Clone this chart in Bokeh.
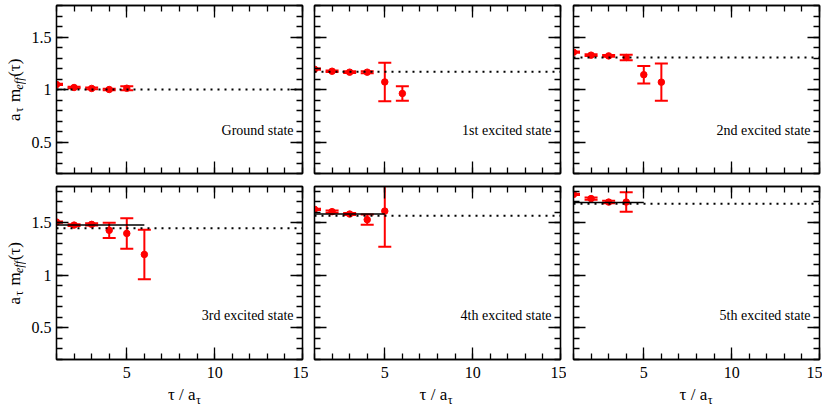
import numpy as np
from bokeh.plotting import figure
from bokeh.models import (LinearAxis, FixedTicker, Range1d, Label,
                          ColumnDataSource, GridPlot)
from bokeh.embed import file_html
from bokeh.resources import INLINE
from bokeh.core.properties import value

# ---------------- data ----------------
tau = [1, 2, 3, 4, 5, 6]
state_names = ["Ground state", "1st excited state", "2nd excited state",
               "3rd excited state", "4th excited state", "5th excited state"]

meff_0 = [1.048, 1.019, 1.010, 1.000, 1.012]
err_0 = [0.006, 0.008, 0.008, 0.008, 0.018]
meff_1 = [1.193, 1.174, 1.165, 1.165, 1.072, 0.962]
err_1 = [0.006, 0.008, 0.008, 0.010, 0.183, 0.069]
meff_2 = [1.355, 1.327, 1.320, 1.305, 1.141, 1.070]
err_2 = [0.006, 0.008, 0.008, 0.027, 0.084, 0.178]
meff_3 = [1.507, 1.478, 1.485, 1.428, 1.399, 1.199]
err_3 = [0.006, 0.008, 0.010, 0.072, 0.145, 0.235]
meff_4 = [1.628, 1.606, 1.583, 1.530, 1.611]
err_4 = [0.006, 0.010, 0.010, 0.048, 0.340]
meff_5 = [1.770, 1.730, 1.697, 1.697]
err_5 = [0.006, 0.010, 0.012, 0.093]

fit_dotted = [1.000, 1.168, 1.305, 1.447, 1.568, 1.682]
fit_solid = [None, None, None, 1.478, 1.583, 1.694]
fit_solid_end = [None, None, None, 6, 5, 5]

x_major = [5, 10, 15]
y_major = [0.5, 1, 1.5]
y_major_labels = ["0.5", "1", "1.5"]

all_meff = [meff_0, meff_1, meff_2, meff_3, meff_4, meff_5]
all_err = [err_0, err_1, err_2, err_3, err_4, err_5]

# ---------------- style / layout ----------------
FONT = "Liberation Serif"
XR = (1, 15)
YR = [(0.2, 1.8), (0.2, 1.845)]
FW = 246
FH = [168, 173]
W0 = 26                       # width of y-title strip
BL = [30, 6, 7]
BR = [6, 6, 3]
BT = [5, 7]
BB = [6, 22]
XT_H = 24                     # height of x-title strip
x_minor = list(range(1, 16))
y_minor = [round(v, 1) for v in np.arange(0.2, 1.86, 0.1)]

ROW_H = [BT[r] + FH[r] + BB[r] for r in range(2)]
COL_W = [BL[c] + FW + BR[c] for c in range(3)]
TOTAL_W = W0 + sum(COL_W)
YT_H = sum(ROW_H)


def style_axis(ax, show_labels):
    ax.axis_line_color = "black"
    ax.axis_line_width = 1.3
    ax.major_tick_in = 12
    ax.major_tick_out = 0
    ax.minor_tick_in = 6
    ax.minor_tick_out = 0
    ax.major_tick_line_color = "black"
    ax.major_tick_line_width = 1.3
    ax.minor_tick_line_color = "black"
    ax.minor_tick_line_width = 1.3
    ax.major_label_text_font = FONT
    ax.major_label_text_color = "black"
    if show_labels:
        ax.major_label_text_font_size = "16px"
    else:
        ax.major_label_text_font_size = "0px"
        ax.major_label_standoff = 0


def blank_fig(w, h):
    f = figure(frame_width=w, frame_height=h, x_range=Range1d(0, w),
               y_range=Range1d(0, h), output_backend="svg",
               toolbar_location=None, title_location=None,
               x_axis_location=None, y_axis_location=None)
    f.min_border = 0
    f.xgrid.visible = False
    f.ygrid.visible = False
    f.outline_line_color = None
    return f


def make_panel(idx):
    row, col = divmod(idx, 3)
    y0, y1 = YR[row]
    fh = FH[row]
    p = figure(frame_width=FW, frame_height=fh,
               x_range=Range1d(*XR), y_range=Range1d(y0, y1),
               output_backend="svg", toolbar_location=None, title_location=None,
               x_axis_location=None, y_axis_location=None)
    p.min_border = 0
    p.min_border_left = BL[col]
    p.min_border_right = BR[col]
    p.min_border_top = BT[row]
    p.min_border_bottom = BB[row]
    p.xgrid.visible = False
    p.ygrid.visible = False
    p.outline_line_color = "black"
    p.outline_line_width = 1.3

    ux = (XR[1] - XR[0]) / FW
    uy = (y1 - y0) / fh

    for loc in ["below", "above"]:
        ax = LinearAxis(ticker=FixedTicker(ticks=x_major, minor_ticks=x_minor))
        show = (loc == "below" and row == 1)
        style_axis(ax, show)
        if show:
            ax.major_label_standoff = 7
        else:
            ax.major_label_overrides = {t: "" for t in x_major}
        p.add_layout(ax, loc)
    for loc in ["left", "right"]:
        ax = LinearAxis(ticker=FixedTicker(ticks=y_major, minor_ticks=y_minor))
        show = (loc == "left" and col == 0)
        style_axis(ax, show)
        if show:
            ax.major_label_standoff = 5
            ax.major_label_overrides = dict(zip(y_major, y_major_labels))
        else:
            ax.major_label_overrides = {t: "" for t in y_major}
        p.add_layout(ax, loc)

    vals = all_meff[idx]
    errs = all_err[idx]
    xs = tau[:len(vals)]
    src = ColumnDataSource(dict(
        x=xs, y=vals,
        lo=[v - e for v, e in zip(vals, errs)],
        hi=[v + e for v, e in zip(vals, errs)]))
    p.segment(x0="x", y0="lo", x1="x", y1="hi", source=src,
              line_color="red", line_width=2)
    p.scatter("x", "lo", marker="dash", size=13, line_color="red",
              line_width=2, source=src)
    p.scatter("x", "hi", marker="dash", size=13, line_color="red",
              line_width=2, source=src)
    p.scatter("x", "y", marker="circle", size=6.5, fill_color="red",
              line_color="red", source=src)

    # fit lines
    p.line(x=[XR[0], XR[1]], y=[fit_dotted[idx]] * 2, line_color="black",
           line_width=2, line_dash="2 5")
    if fit_solid[idx] is not None:
        p.line(x=[tau[0], fit_solid_end[idx]], y=[fit_solid[idx]] * 2,
               line_color="black", line_width=1.5)

    # state label inside the frame
    p.add_layout(Label(x=XR[1] - 9 * ux, y=y0 + (43 if row == 0 else 44) * uy,
                       text=state_names[idx],
                       text_align="right", text_baseline="alphabetic",
                       text_font=FONT, text_font_size="14px", text_color="black"))
    return p


def make_ytitle():
    f = blank_fig(W0, YT_H)
    main_x, sub_x = 13.5, 18.5
    pieces = [("a", 0.0, main_x, "17px", "normal"),
              ("τ", 8.8, sub_x, "12px", "normal"),
              ("m", 19.0, main_x, "17px", "normal"),
              ("eff", 31.5, sub_x, "12px", "italic"),
              ("(τ)", 44.2, main_x, "17px", "normal")]
    top = 0
    for r in range(2):
        # title centred 5 px above the frame centre; reads bottom -> top
        centre_from_top = top + BT[r] + FH[r] / 2 - 5
        start_from_top = centre_from_top + 31.5
        for txt, off, xx, fs, st in pieces:
            f.text(x=[xx], y=[YT_H - start_from_top + off], text=[txt],
                   angle=np.pi / 2, text_align="left",
                   text_baseline="alphabetic", text_font=value(FONT),
                   text_font_size=value(fs), text_font_style=st,
                   text_color="black")
        top += ROW_H[r]
    return f


def make_xtitle():
    f = blank_fig(TOTAL_W, XT_H)
    offsets = [139, 132.7, 133.7]
    left = W0
    for c in range(3):
        right_edge = left + BL[c] + offsets[c]
        f.text(x=[right_edge], y=[11], text=["τ / a"], text_align="right",
               text_baseline="alphabetic", text_font=value(FONT),
               text_font_size=value("17px"), text_color="black")
        f.text(x=[right_edge + 0.5], y=[6], text=["τ"], text_align="left",
               text_baseline="alphabetic", text_font=value(FONT),
               text_font_size=value("12px"), text_color="black")
        left += COL_W[c]
    return f


panels = [make_panel(i) for i in range(6)]
children = [(make_ytitle(), 0, 0, 2, 1)]
for i, pnl in enumerate(panels):
    r, c = divmod(i, 3)
    children.append((pnl, r, c + 1))
children.append((make_xtitle(), 2, 0, 1, 4))
grid = GridPlot(children=children, toolbar_location=None)

open("out.html", "w").write(file_html(grid, INLINE))
